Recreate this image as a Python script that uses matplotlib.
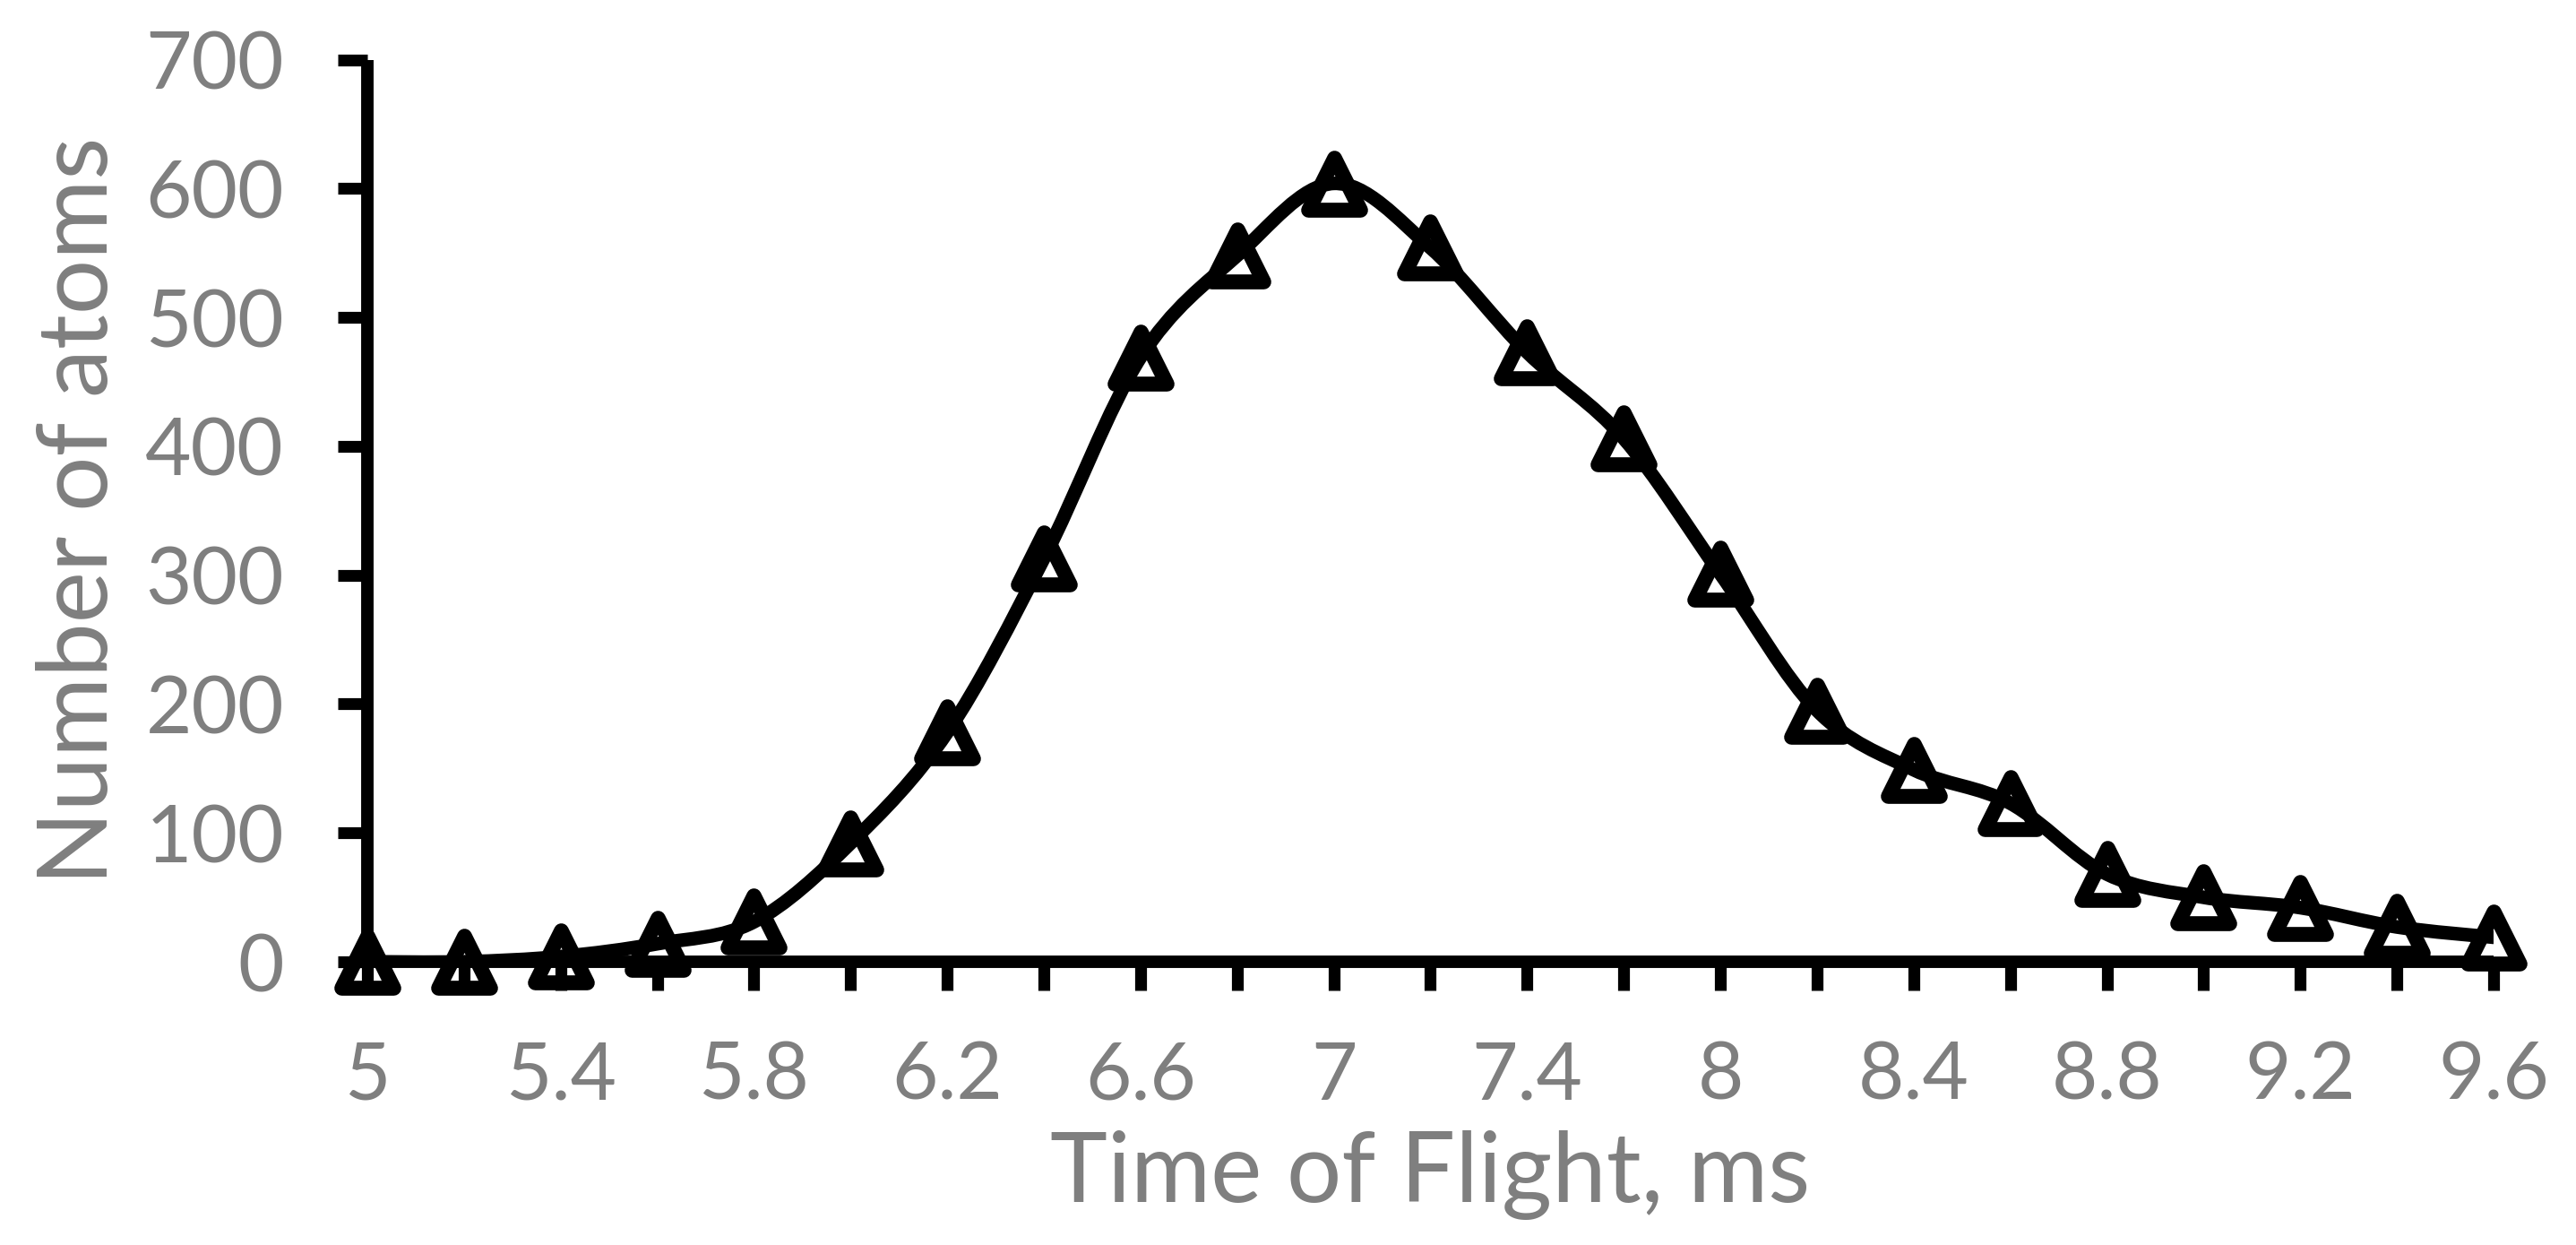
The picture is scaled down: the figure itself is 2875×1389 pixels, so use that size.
import numpy as np
import matplotlib.pyplot as plt
from matplotlib.path import Path
from matplotlib.patches import PathPatch
from matplotlib.markers import MarkerStyle

# time of flight categories (ms) and atom counts
times = ["5", "5.2", "5.4", "5.6", "5.8", "6", "6.2", "6.4", "6.6", "6.8", "7", "7.2",
         "7.4", "7.6", "8", "8.2", "8.4", "8.6", "8.8", "9", "9.2", "9.4", "9.6"]
atoms = [0, 0, 4, 14, 31, 92, 178, 313, 469, 548, 604, 554,
         473, 406, 301, 195, 149, 123, 68, 50, 42, 27, 19]

gray = "#7f7f7f"
plt.rcParams['font.family'] = ['Lato', 'DejaVu Sans']

fig = plt.figure(figsize=(28.75, 13.89), dpi=100)
ax = fig.add_axes([0.1426, 0.2275, 0.8254, 0.7246])

x = np.arange(len(times))
y = np.array(atoms, dtype=float)

# smoothed line like Excel (bezier through each point)
pts = np.column_stack([x, y])
ext = np.vstack([pts[0], pts, pts[-1]])
verts = [tuple(pts[0])]
codes = [Path.MOVETO]
for i in range(1, len(ext) - 2):
    p0, p1, p2, p3 = ext[i - 1], ext[i], ext[i + 1], ext[i + 2]
    c1 = p1 + (p2 - p0) / 6
    c2 = p2 - (p3 - p1) / 6
    verts += [tuple(c1), tuple(c2), tuple(p2)]
    codes += [Path.CURVE4] * 3
ax.add_patch(PathPatch(Path(verts, codes), fill=False, edgecolor="black",
                       linewidth=11, capstyle="round", joinstyle="round", zorder=3))

tri = MarkerStyle("^", joinstyle="round")
ax.plot(x, y, linestyle="none", marker=tri, markersize=42, markerfacecolor="none",
        markeredgecolor="black", markeredgewidth=12, clip_on=False, zorder=4)

ax.set_xlim(0, 22)
ax.set_ylim(0, 700)
ax.set_xticks(x)
ax.set_xticklabels([t if i % 2 == 0 else "" for i, t in enumerate(times)])
ax.set_yticks(np.arange(0, 701, 100))

for s in ["top", "right"]:
    ax.spines[s].set_visible(False)
for s in ["left", "bottom"]:
    ax.spines[s].set_linewidth(10)
    ax.spines[s].set_capstyle("butt")

ax.tick_params(axis="y", length=24, width=9.5, pad=43, labelsize=64, labelcolor=gray)
ax.tick_params(axis="x", length=23, width=9.5, pad=40, labelsize=64, labelcolor=gray)

ax.set_xlabel("Time of Flight, ms", fontsize=78, color=gray, va="center")
ax.set_ylabel("Number of atoms", fontsize=78, color=gray, va="center")
ax.xaxis.set_label_coords(0.5, -0.2366)
ax.yaxis.set_label_coords(-0.135, 0.5)

fig.savefig("out.png", dpi=100)
